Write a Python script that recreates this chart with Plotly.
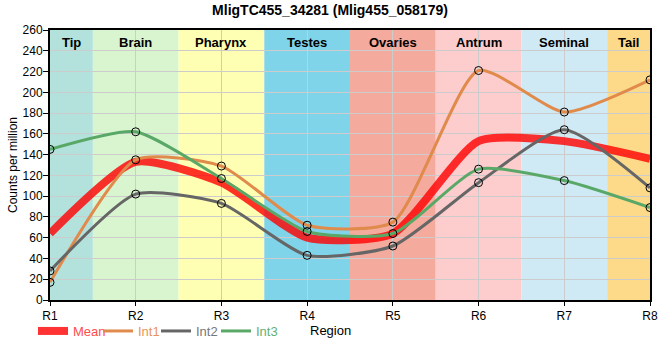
import plotly.graph_objects as go

regions = ["R1", "R2", "R3", "R4", "R5", "R6", "R7", "R8"]
mean_vals = [64, 133, 113, 60, 64, 153, 153, 136]
int1_vals = [17, 135, 129, 72, 75, 221, 181, 212]
int2_vals = [28, 102, 93, 43, 52, 113, 164, 108]
int3_vals = [145, 162, 117, 66, 64, 126, 115, 89]

band_names = ["Tip", "Brain", "Pharynx", "Testes", "Ovaries", "Antrum", "Seminal", "Tail"]
band_colors = ["#b3e2dd", "#d8f5d0", "#ffffb3", "#80d4ea", "#f4aa9c", "#fdcdcd", "#cfeaf4", "#fdda8a"]

x = list(range(len(regions)))
SM = 0.6

fig = go.Figure()

# region bands
for i, (nm, col) in enumerate(zip(band_names, band_colors)):
    x0 = max(i - 0.5, 0)
    x1 = min(i + 0.5, len(regions) - 1)
    fig.add_shape(type="rect", xref="x", yref="paper", x0=x0, x1=x1, y0=0, y1=1,
                  fillcolor=col, line_width=0, layer="below")
    fig.add_annotation(x=(x0 + x1) / 2, y=1, xref="x", yref="paper", yanchor="top",
                       yshift=-3, text="<b>" + nm + "</b>", showarrow=False,
                       font=dict(family="Arial, Liberation Sans", size=13, color="#000"))

fig.add_trace(go.Scatter(x=x, y=mean_vals, mode="lines", showlegend=False,
                         line=dict(color="rgba(255,0,0,0.8)", width=8, shape="spline", smoothing=SM)))

series = [("Int1", int1_vals, "#e08a4c", "#e8955a"),
          ("Int2", int2_vals, "#666666", "#777777"),
          ("Int3", int3_vals, "#5aa867", "#66b075")]
for nm, vals, col, tcol in series:
    fig.add_trace(go.Scatter(x=x, y=vals, mode="lines+markers", showlegend=False,
                             line=dict(color=col, width=3, shape="spline", smoothing=SM),
                             marker=dict(size=8, color="rgba(0,0,0,0)",
                                         line=dict(color="#000", width=1))))

# legend entries (one legend box each, placed like the reference)
leg_items = [("Mean", "rgba(255,0,0,0.8)", "#ff4d4d", 8, 33),
             ("Int1", "#e08a4c", "#e8955a", 3, 98),
             ("Int2", "#666666", "#777777", 3, 156),
             ("Int3", "#5aa867", "#66b075", 3, 216)]
leg_layout = {}
for k, (nm, col, tcol, w, px) in enumerate(leg_items):
    key = "legend" if k == 0 else "legend%d" % (k + 1)
    fig.add_trace(go.Scatter(x=[None], y=[None], mode="lines", legend=key,
                             name="<span style='color:%s'>%s</span>" % (tcol, nm),
                             line=dict(color=col, width=w)))
    leg_layout[key] = dict(orientation="h", x=(px - 50) / 600, xanchor="left",
                           y=(300 - 331) / 270, yanchor="middle", font=dict(size=13),
                           bgcolor="rgba(0,0,0,0)", itemwidth=30)

fig.update_layout(
    width=660, height=360,
    margin=dict(l=50, r=10, t=30, b=60, autoexpand=False),
    paper_bgcolor="white", plot_bgcolor="white",
    font=dict(family="Arial, Liberation Sans", size=12, color="#000"),
    title=dict(text="<b>MligTC455_34281 (Mlig455_058179)</b>", x=0.5, xref="container",
               y=0.985, yanchor="top", font=dict(size=14)),
    showlegend=True,
    xaxis=dict(range=[0, 7], tickvals=x, ticktext=regions, showgrid=True,
               gridcolor="#cccccc", gridwidth=1, showline=True, linecolor="#000",
               linewidth=2, mirror=True, ticks="outside", ticklen=4, tickcolor="#000",
               zeroline=False, automargin=False, tickfont=dict(size=12, color="#000")),
    yaxis=dict(range=[0, 260], dtick=20, showgrid=True, gridcolor="#cccccc",
               gridwidth=1, showline=True, linecolor="#000", linewidth=2, mirror=True,
               ticks="outside", ticklen=5, tickcolor="#000", zeroline=False,
               automargin=False, ticklabelstandoff=-2,
               tickfont=dict(size=12, color="#000")),
    **leg_layout,
)

fig.add_annotation(x=(13 - 50) / 600, y=0.5, xref="paper", yref="paper",
                   xanchor="center", yanchor="middle", textangle=-90,
                   text="Counts per million", showarrow=False, font=dict(size=12))
fig.add_annotation(x=(330 - 50) / 600, y=(300 - 331) / 270, xref="paper", yref="paper",
                   yanchor="middle", text="Region", showarrow=False, font=dict(size=13))

fig.write_html("out.html", config={"displayModeBar": False},
               post_script="document.body.style.margin='0';document.body.style.overflow='hidden';")
